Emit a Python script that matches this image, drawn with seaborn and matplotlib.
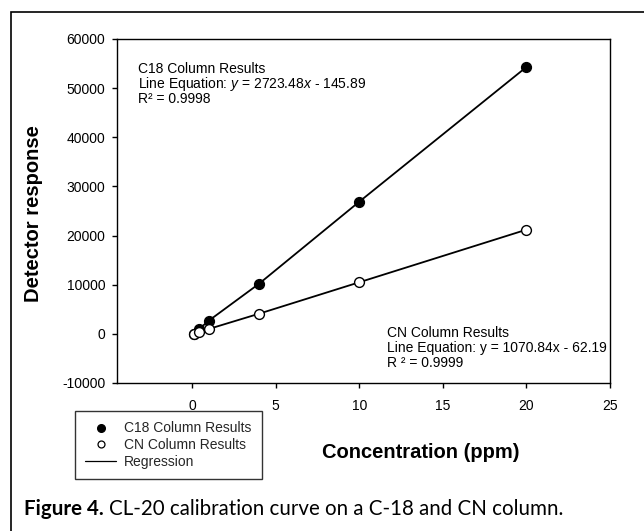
import matplotlib
matplotlib.use("Agg")
import matplotlib.pyplot as plt
from matplotlib.lines import Line2D
from matplotlib.patches import Rectangle
import seaborn as sns
import pandas as pd

# ---- data ----
concentration = [0.1, 0.4, 1, 4, 10, 20]
c18_response = [0, 950, 2700, 10200, 26900, 54300]
cn_response = [0, 300, 1000, 4100, 10500, 21200]
series_names = ["C18 Column Results", "CN Column Results"]
y_ticks = [-10000, 0, 10000, 20000, 30000, 40000, 50000, 60000]
x_ticks = [0, 5, 10, 15, 20, 25]

df = pd.DataFrame({
    "Concentration": concentration * 2,
    "Response": c18_response + cn_response,
    "Column": [series_names[0]] * len(concentration) + [series_names[1]] * len(concentration),
})

sns.set_theme(style="ticks")
plt.rcParams["font.family"] = ["Liberation Sans", "DejaVu Sans"]
plt.rcParams["axes.unicode_minus"] = False
plt.rcParams["mathtext.fontset"] = "custom"
plt.rcParams["mathtext.rm"] = "Liberation Sans"
plt.rcParams["mathtext.it"] = "Liberation Sans:italic"

W, H = 644, 531
fig = plt.figure(figsize=(W / 100, H / 100), dpi=100)
fig.patch.set_facecolor("white")
ax = fig.add_axes([117 / W, 1 - 383 / H, (610 - 117) / W, (383 - 39) / H])
ax.set_facecolor("white")

sns.lineplot(data=df, x="Concentration", y="Response", hue="Column",
             palette={series_names[0]: "black", series_names[1]: "black"},
             linewidth=1.3, legend=False, ax=ax, zorder=2)
c18 = df[df["Column"] == series_names[0]]
cn = df[df["Column"] == series_names[1]]
sns.scatterplot(data=c18, x="Concentration", y="Response", color="black",
                edgecolor="black", s=50, linewidth=1, ax=ax, zorder=3, legend=False)
sns.scatterplot(data=cn, x="Concentration", y="Response", color="white",
                edgecolor="black", s=50, linewidth=1, ax=ax, zorder=4, legend=False)

ax.set_xlim(-4.5, 25)
ax.set_ylim(-10000, 60000)
ax.set_xticks(x_ticks)
ax.set_yticks(y_ticks)
ax.set_xticklabels([str(t) for t in x_ticks])
ax.set_yticklabels([str(t) for t in y_ticks])
for sp in ax.spines.values():
    sp.set_visible(True)
    sp.set_color("black")
    sp.set_linewidth(1.0)
ax.tick_params(axis="both", direction="out", length=3.5, width=1, colors="black",
               labelsize=10, labelcolor="black")
ax.tick_params(axis="x", pad=8)
ax.tick_params(axis="y", pad=5)
ax.grid(False)

ax.set_xlabel("Concentration (ppm)", fontsize=14.5, fontweight="bold", color="black")
ax.xaxis.set_label_coords((421 - 117) / (610 - 117), (383 - 452) / (383 - 39))
ax.xaxis.label.set_va("center")
ax.set_ylabel("Detector response", fontsize=14.5, fontweight="bold", color="black")
ax.yaxis.set_label_coords((34 - 117) / (610 - 117), (383 - 214) / (383 - 39))
ax.yaxis.label.set_va("center")

# annotations
def px_y(py):
    return (333 - py) * 10000 / 49

def px_x(px):
    return (px - 192) / 16.72

c18_lines = ["C18 Column Results",
             "Line Equation: $\\mathit{y}$ = 2723.48$\\mathit{x}$ - 145.89",
             "R\u00b2 = 0.9998"]
cn_lines = ["CN Column Results",
            "Line Equation: y = 1070.84x - 62.19",
            "R \u00b2 = 0.9999"]
for i, t in enumerate(c18_lines):
    ax.text(px_x(138), px_y(69 + 15 * i), t, fontsize=10, va="center", ha="left", color="black")
for i, t in enumerate(cn_lines):
    ax.text(px_x(387), px_y(332 + 15 * i), t, fontsize=10, va="center", ha="left", color="black")

# legend
handles = [
    Line2D([], [], marker="o", linestyle="none", markerfacecolor="black",
           markeredgecolor="black", markersize=5.5),
    Line2D([], [], marker="o", linestyle="none", markerfacecolor="white",
           markeredgecolor="black", markersize=5, markeredgewidth=0.9),
    Line2D([], [], color="black", linewidth=0.9),
]
leg = fig.legend(handles, series_names + ["Regression"], loc="upper left",
                 bbox_to_anchor=(75 / W, 1 - 411 / H), fontsize=10, frameon=True,
                 fancybox=False, edgecolor="black", borderpad=0.75, handlelength=2.2,
                 handletextpad=0.6, labelspacing=0.2, borderaxespad=0)
leg.get_frame().set_linewidth(1.0)

# outer frame (only left and top edges visible)
fig.patches.append(Rectangle((11 / W, -0.2), 1.2, 1.2 - 12 / H, transform=fig.transFigure,
                             fill=False, edgecolor="black", linewidth=1.2, clip_on=False))

# caption
t1 = fig.text(24 / W, 1 - 509 / H, "Figure 4.", fontsize=14.8, fontweight="bold",
              family=["Lato", "DejaVu Sans"], va="center", ha="left", color="black")
fig.canvas.draw()
bb = t1.get_window_extent()
fig.text((bb.x1 + 5) / W, 1 - 509 / H, "CL-20 calibration curve on a C-18 and CN column.",
         fontsize=14.8, family=["Lato", "DejaVu Sans"], va="center", ha="left", color="black")

fig.savefig("out.png", dpi=100, facecolor="white")
